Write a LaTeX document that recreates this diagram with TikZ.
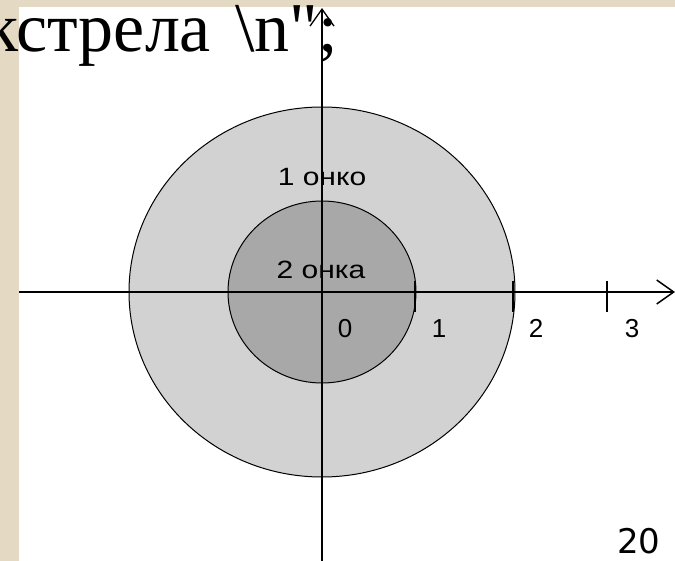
\documentclass[tikz,border=0pt]{standalone}
\usepackage{fontspec}
\setmainfont{Liberation Serif}
\newfontfamily\titlefont{Liberation Serif}[Ligatures=TeXOff]
\newfontfamily\labelfont{Liberation Sans}
\newfontfamily\pagefont{DejaVu Sans}
\usetikzlibrary{arrows.meta}

\definecolor{slidebeige}{HTML}{E4DAC4}
\definecolor{ringgray}{HTML}{D2D2D2}
\definecolor{innergray}{HTML}{A8A8A8}

\tikzset{
  axisline/.style={line width=1.5pt, -{Straight Barb[length=17pt,width=24pt]}},
  axistick/.style={line width=1.5pt},
  zone/.style={draw=black, line width=1pt},
  numlabel/.style={inner sep=0pt, font=\labelfont\fontsize{26}{26}\selectfont},
  zonelabel/.style={inner sep=0pt, xscale=1.2, font=\labelfont\fontsize{25}{25}\selectfont},
}

\begin{document}
\begin{tikzpicture}[x=1pt, y=-1pt]
    \useasboundingbox (0,0) rectangle (675,561);

    % Slide background
    \fill[white] (0,0) rectangle (675,561);
    \fill[slidebeige] (0,0) rectangle (19,561);
    \fill[slidebeige] (0,0) rectangle (675,7);

    % Title line (cut off at the left)
    \node[anchor=base west, inner sep=0pt, font=\titlefont\fontsize{70}{70}\selectfont] (title) at (-16,52) {кстрела\hspace{24pt}\textbackslash n";};

    % Target zones
    \filldraw[zone, fill=ringgray] (322,292) ellipse [x radius=193, y radius=185];
    \filldraw[zone, fill=innergray] (322,292) ellipse [x radius=94, y radius=91];

    % Axes
    \coordinate (xfrom) at (19,292);
    \coordinate (xto) at (675,292);
    \coordinate (yfrom) at (322,561);
    \coordinate (yto) at (322,8);
    \draw[axisline] (xfrom) -- (xto);
    \draw[axisline, line width=1.3pt] (yfrom) -- (yto);

    % Ticks
    \foreach \x in {415, 513, 607}
        \draw[axistick] (\x,281) -- (\x,312);

    % Zone labels
    \node[zonelabel, anchor=base] (one) at (322,186) {1 онко};
    \node[zonelabel, anchor=base] (two) at (321,279) {2 онка};

    % Axis numbers
    \node[numlabel, anchor=base] (n0) at (345,338) {0};
    \node[numlabel, anchor=base] (n1) at (439,338) {1};
    \node[numlabel, anchor=base] (n2) at (536,338) {2};
    \node[numlabel, anchor=base] (n3) at (632,338) {3};

    % Slide number
    \node[anchor=base, inner sep=0pt, font=\pagefont\fontsize{34}{34}\selectfont] (page) at (639,553) {20};
\end{tikzpicture}
\end{document}
